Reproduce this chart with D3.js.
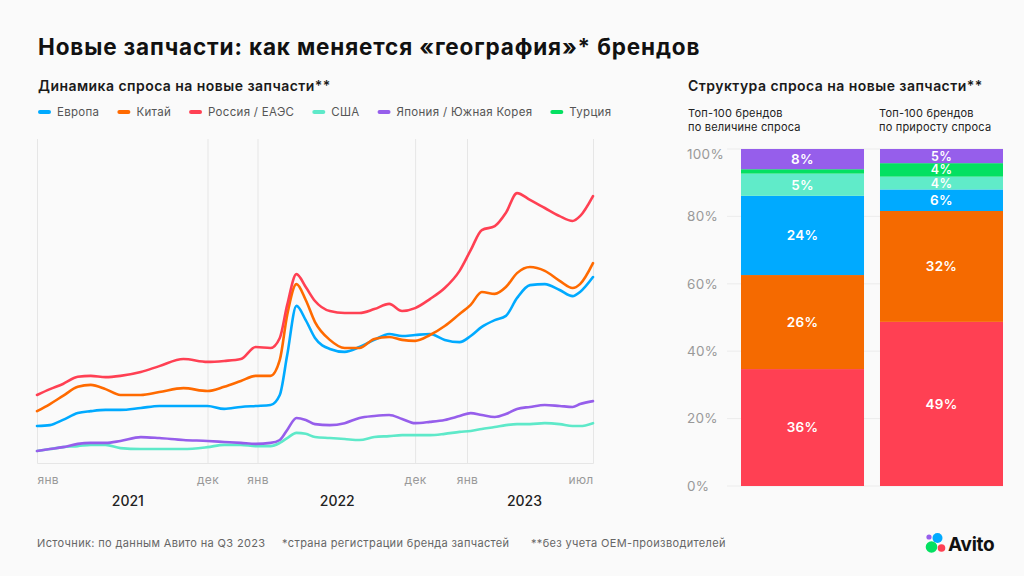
<!DOCTYPE html>
<html>
<head>
<meta charset="utf-8">
<script src="https://cdn.jsdelivr.net/npm/d3@7"></script>
<style>
  html, body { margin: 0; padding: 0; background: #fafafa; }
  svg { display: block; font-family: Inter, "Noto Sans", sans-serif; }
</style>
</head>
<body>
<div id="chart"></div>
<script>
// line chart: months since Jan 2021 (relative demand index)
const months = [0, 0.7, 1.4, 2.2, 2.9, 3.7, 4.5, 5.6, 6.6, 7.9, 9.2, 10.1, 11.0, 11.8, 12.6, 13.1, 13.5, 14.0, 14.5, 15.0,
  15.8, 16.6, 17.4, 18.2, 19.0, 19.7, 20.4, 21.2, 22.0, 22.8, 23.4, 24.0, 24.7, 25.3, 25.9, 26.6, 27.4, 28.2, 28.9, 29.3, 30.0];
const europe = [11.4, 11.7, 13.3, 15.4, 16.0, 16.4, 16.4, 17.0, 17.6, 17.6, 17.6, 16.7, 17.3, 17.6, 17.9, 21.0, 33.3, 48.5, 44.1, 38.6,
  35.2, 34.3, 35.8, 38.0, 39.8, 39.2, 39.5, 39.8, 38.0, 37.3, 39.2, 42.0, 44.1, 45.4, 50.9, 54.9, 55.2, 53.4, 51.5, 52.8, 57.4];
const china = [16.0, 18.2, 20.7, 23.5, 24.1, 22.8, 21.0, 21.0, 21.9, 23.1, 22.2, 23.5, 25.3, 26.9, 26.9, 31.8, 45.7, 55.2, 50.3, 43.5,
  38.0, 35.5, 35.5, 38.3, 38.9, 38.0, 37.7, 39.5, 42.3, 46.0, 48.8, 52.8, 52.2, 54.3, 58.6, 60.5, 59.3, 56.2, 54.0, 55.2, 61.7];
const russia = [21.0, 22.8, 24.4, 26.6, 26.9, 26.5, 26.9, 28.1, 29.9, 32.1, 31.2, 31.5, 32.1, 35.8, 35.5, 38.6, 48.8, 58.3, 54.3, 50.0,
  46.9, 46.3, 46.3, 47.5, 49.1, 46.9, 47.8, 50.6, 54.0, 59.3, 65.7, 71.9, 73.1, 77.2, 83.3, 81.2, 78.7, 76.2, 74.7, 76.2, 82.4];
const usa = [3.7, 4.3, 4.9, 5.2, 5.6, 5.6, 4.6, 4.3, 4.3, 4.3, 4.9, 5.6, 5.6, 5.2, 5.2, 6.2, 7.7, 9.3, 9.0, 8.0,
  7.7, 7.4, 7.1, 8.0, 8.3, 8.6, 8.6, 8.6, 9.0, 9.6, 9.9, 10.5, 11.1, 11.7, 12.0, 12.0, 12.3, 12.0, 11.4, 11.4, 12.3];
const japanKorea = [3.7, 4.3, 4.9, 5.9, 6.2, 6.2, 6.8, 8.0, 7.7, 7.1, 6.8, 6.5, 6.2, 5.9, 6.2, 7.1, 10.2, 13.9, 13.3, 12.0,
  11.7, 12.3, 13.9, 14.5, 14.8, 13.6, 12.3, 12.7, 13.3, 14.5, 15.4, 14.8, 14.2, 15.1, 16.7, 17.3, 17.9, 17.6, 17.3, 18.2, 19.1];

const legendNames = ['Европа', 'Китай', 'Россия / ЕАЭС', 'США', 'Япония / Южная Корея', 'Турция'];
const legendColors = ['#00aaff', '#ff6a00', '#ff4053', '#5ee9c9', '#965eeb', '#04e061'];

const tickMonths = [0, 9.2, 11.9, 20.4, 23.2, 30];
const tickLabels = ['янв', 'дек', 'янв', 'дек', 'янв', 'июл'];
const yearMonths = [4.9, 16.2, 26.3];
const yearLabels = ['2021', '2022', '2023'];

// stacked bars: shares as drawn (bottom to top), labels as printed
const barKeys = ['Россия / ЕАЭС', 'Китай', 'Европа', 'США', 'Турция', 'Япония / Южная Корея'];
const barColors = ['#ff4053', '#f56a00', '#00aaff', '#60ebc9', '#04e061', '#965eeb'];
const barHeaders = [['Топ-100 брендов', 'по величине спроса'], ['Топ-100 брендов', 'по приросту спроса']];
const sharesBySize = [34.7, 27.9, 23.5, 6.6, 1.3, 6.0];
const sharesByGrowth = [48.7, 32.9, 6.4, 3.8, 4.0, 4.2];
const labelsBySize = ['36%', '26%', '24%', '5%', '', '8%'];
const labelsByGrowth = ['49%', '32%', '6%', '4%', '4%', '5%'];
const pctTicks = [0, 20, 40, 60, 80, 100];

const W = 1024, H = 576;
const svg = d3.select('#chart').append('svg')
  .attr('width', W)
  .attr('height', H);

svg.append('rect').attr('width', W).attr('height', H).attr('fill', '#fafafa');

// Titles
svg.append('text')
  .attr('x', 38).attr('y', 55)
  .attr('font-size', 22.5).attr('font-weight', 700)
  .attr('letter-spacing', 0.85)
  .attr('fill', '#111')
  .text('Новые запчасти: как меняется «география»* брендов');

svg.append('text')
  .attr('x', 38).attr('y', 91)
  .attr('font-size', 14).attr('font-weight', 600)
  .attr('letter-spacing', 0.45)
  .attr('fill', '#1a1a1a')
  .text('Динамика спроса на новые запчасти**');

svg.append('text')
  .attr('x', 688).attr('y', 91)
  .attr('font-size', 14).attr('font-weight', 600)
  .attr('letter-spacing', 0.45)
  .attr('fill', '#1a1a1a')
  .text('Структура спроса на новые запчасти**');

// Legend
const legend = svg.append('g').attr('transform', 'translate(38,112)');
let lx = 0;
legendNames.forEach((name, i) => {
  const g = legend.append('g').attr('transform', `translate(${lx},0)`);
  g.append('line')
    .attr('x1', 2).attr('x2', 11)
    .attr('stroke', legendColors[i])
    .attr('stroke-width', 4)
    .attr('stroke-linecap', 'round');
  const t = g.append('text')
    .attr('x', 19).attr('dy', '0.35em')
    .attr('font-size', 11.5).attr('fill', '#555')
    .attr('letter-spacing', 0.3)
    .text(name);
  lx += 19 + t.node().getComputedTextLength() + 18;
});

// Line chart
const x = d3.scaleLinear().domain([0, 30]).range([37, 593]);
const y = d3.scaleLinear().domain([0, 100]).range([463, 139]);

const grid = svg.append('g').attr('transform', 'translate(0,463)')
  .call(d3.axisBottom(x).tickValues(tickMonths).tickSize(-(463 - 139)).tickFormat((d, i) => tickLabels[i]));
grid.select('.domain').attr('stroke', '#e6e6e6');
grid.selectAll('.tick line').attr('stroke', '#e6e6e6');
grid.selectAll('.tick text')
  .attr('y', 12)
  .attr('font-size', 12)
  .attr('letter-spacing', 0.3)
  .attr('fill', '#999')
  .attr('font-family', 'Inter, sans-serif')
  .attr('text-anchor', (d, i) => i === 0 ? 'start' : (i === tickMonths.length - 1 ? 'end' : 'middle'));

svg.append('g').selectAll('text')
  .data(yearLabels)
  .join('text')
  .attr('x', (d, i) => x(yearMonths[i]))
  .attr('y', 506)
  .attr('text-anchor', 'middle')
  .attr('font-size', 14).attr('font-weight', 500)
  .attr('fill', '#222')
  .text(d => d);

const series = [
  { values: usa, color: legendColors[3] },
  { values: japanKorea, color: legendColors[4] },
  { values: europe, color: legendColors[0] },
  { values: china, color: legendColors[1] },
  { values: russia, color: legendColors[2] }
];

const line = d3.line()
  .x((d, i) => x(months[i]))
  .y(d => y(d))
  .curve(d3.curveMonotoneX);

svg.append('g').selectAll('path')
  .data(series)
  .join('path')
  .attr('d', d => line(d.values))
  .attr('fill', 'none')
  .attr('stroke', d => d.color)
  .attr('stroke-width', 2.6)
  .attr('stroke-linejoin', 'round')
  .attr('stroke-linecap', 'round');

// Bar chart
const yb = d3.scaleLinear().domain([0, 100]).range([486, 149]);
const xb = d3.scaleBand().domain(['size', 'growth']).range([741, 1003]).paddingInner(0.115);

svg.append('g').selectAll('line')
  .data(pctTicks)
  .join('line')
  .attr('x1', 727).attr('x2', 1003)
  .attr('y1', d => yb(d)).attr('y2', d => yb(d))
  .attr('stroke', '#ececec');

svg.append('g').selectAll('text')
  .data(pctTicks)
  .join('text')
  .attr('x', 687)
  .attr('y', d => yb(d) + (d === 100 ? 5 : 0))
  .attr('dy', '0.35em')
  .attr('font-size', 13.5).attr('fill', '#999')
  .attr('letter-spacing', 0.3)
  .text(d => d + '%');

const barRows = [
  { key: 'size', shares: sharesBySize, labels: labelsBySize, header: barHeaders[0], hx: 688 },
  { key: 'growth', shares: sharesByGrowth, labels: labelsByGrowth, header: barHeaders[1], hx: 879 }
];

barRows.forEach(row => {
  const obj = {};
  barKeys.forEach((k, i) => { obj[k] = row.shares[i]; });
  const stacked = d3.stack().keys(barKeys)([obj]);
  const g = svg.append('g');
  stacked.forEach((layer, i) => {
    const [y0, y1] = layer[0];
    g.append('rect')
      .attr('x', xb(row.key))
      .attr('width', xb.bandwidth())
      .attr('y', yb(y1))
      .attr('height', yb(y0) - yb(y1))
      .attr('fill', barColors[i]);
    if (row.labels[i]) {
      const h = yb(y0) - yb(y1);
      g.append('text')
        .attr('x', xb(row.key) + xb.bandwidth() / 2)
        .attr('y', (yb(y0) + yb(y1)) / 2)
        .attr('dy', '0.36em')
        .attr('text-anchor', 'middle')
        .attr('font-size', h < 16 ? 12.5 : 13.5).attr('font-weight', 600)
        .attr('letter-spacing', 0.3)
        .attr('fill', '#fff')
        .text(row.labels[i]);
    }
  });
  g.append('text')
    .attr('x', row.hx)
    .attr('y', 117)
    .attr('font-size', 11).attr('fill', '#222')
    .attr('letter-spacing', 0.2)
    .selectAll('tspan')
    .data(row.header)
    .join('tspan')
    .attr('x', row.hx)
    .attr('dy', (d, i) => i === 0 ? 0 : 14)
    .text(d => d);
});

// Footer
const footer = ['Источник: по данным Авито на Q3 2023', '*страна регистрации бренда запчастей', '**без учета OEM-производителей'];
const footerX = [37, 282, 531];
svg.append('g').selectAll('text')
  .data(footer)
  .join('text')
  .attr('x', (d, i) => footerX[i])
  .attr('y', 547)
  .attr('font-size', 11).attr('fill', '#666')
  .attr('letter-spacing', 0.35)
  .text(d => d);

// Avito logo
const logo = svg.append('g').attr('transform', 'translate(924,532)');
logo.append('circle').attr('cx', 5).attr('cy', 5).attr('r', 2.6).attr('fill', '#965eeb');
logo.append('circle').attr('cx', 13.5).attr('cy', 6).attr('r', 5).attr('fill', '#00aaff');
logo.append('circle').attr('cx', 7.5).attr('cy', 15).attr('r', 5.8).attr('fill', '#04e061');
logo.append('circle').attr('cx', 17.5).attr('cy', 16).attr('r', 3.8).attr('fill', '#ff4053');
logo.append('text')
  .attr('x', 24).attr('y', 19)
  .attr('font-size', 19).attr('font-weight', 700)
  .attr('letter-spacing', -0.3)
  .attr('fill', '#111')
  .text('Avito');
</script>
</body>
</html>
